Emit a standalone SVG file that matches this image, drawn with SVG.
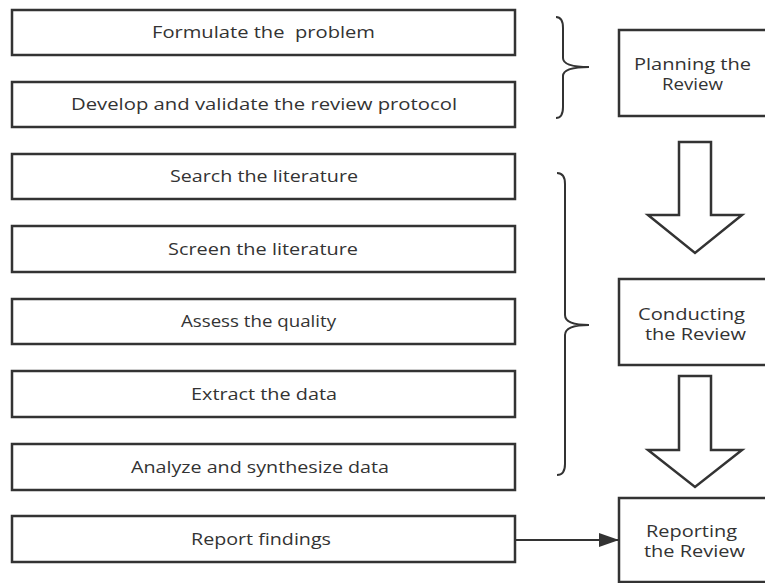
<svg xmlns="http://www.w3.org/2000/svg" width="765" height="583" viewBox="0 0 765 583">
<style>
.box{fill:#fff;stroke:#333;stroke-width:2.5}
.t{font-family:"Open Sans","Noto Sans",sans-serif;font-size:17px;fill:#333;text-anchor:middle}
.r{font-size:16px}
.br{fill:none;stroke:#333;stroke-width:2}
.ba{fill:#fff;stroke:#333;stroke-width:2.5;stroke-linejoin:miter}
</style>
<defs>
<marker id="ah" markerWidth="20" markerHeight="14" refX="19" refY="7" orient="auto" markerUnits="userSpaceOnUse" viewBox="0 0 20 14">
<path d="M0,0 L20,7 L0,14 Z" fill="#333"/>
</marker>
</defs>
<rect width="765" height="583" fill="#fff"/>
<g id="n1"><rect class="box" x="12" y="10" width="503" height="45"/><text class="t" x="263.5" y="38" xml:space="preserve" textLength="223" lengthAdjust="spacingAndGlyphs">Formulate the  problem</text></g>
<g id="n2"><rect class="box" x="12" y="82" width="503" height="45"/><text class="t" x="264" y="110" textLength="386" lengthAdjust="spacingAndGlyphs">Develop and validate the review protocol</text></g>
<g id="n3"><rect class="box" x="12" y="154" width="503" height="45"/><text class="t" x="264" y="182" textLength="188" lengthAdjust="spacingAndGlyphs">Search the literature</text></g>
<g id="n4"><rect class="box" x="12" y="226" width="503" height="46"/><text class="t" x="263" y="255" textLength="190" lengthAdjust="spacingAndGlyphs">Screen the literature</text></g>
<g id="n5"><rect class="box" x="12" y="299" width="503" height="45"/><text class="t" x="258.5" y="327" textLength="155" lengthAdjust="spacingAndGlyphs">Assess the quality</text></g>
<g id="n6"><rect class="box" x="12" y="371" width="503" height="46"/><text class="t" x="264" y="400" textLength="146" lengthAdjust="spacingAndGlyphs">Extract the data</text></g>
<g id="n7"><rect class="box" x="12" y="444" width="503" height="46"/><text class="t" x="260" y="473" textLength="258" lengthAdjust="spacingAndGlyphs">Analyze and synthesize data</text></g>
<g id="n8"><rect class="box" x="12" y="516" width="503" height="46"/><text class="t" x="261" y="545" textLength="140" lengthAdjust="spacingAndGlyphs">Report findings</text></g>
<g id="planning"><rect class="box" x="619" y="30" width="160" height="86"/><text class="t r" x="692.5" y="70" textLength="117" lengthAdjust="spacingAndGlyphs">Planning the</text><text class="t r" x="692.5" y="90" textLength="61" lengthAdjust="spacingAndGlyphs">Review</text></g>
<g id="conducting"><rect class="box" x="619" y="279" width="160" height="86"/><text class="t r" x="691.5" y="320" textLength="107" lengthAdjust="spacingAndGlyphs">Conducting</text><text class="t r" x="695.5" y="340" textLength="101" lengthAdjust="spacingAndGlyphs">the Review</text></g>
<g id="reporting"><rect class="box" x="619" y="498" width="160" height="84"/><text class="t r" x="691.5" y="537" textLength="91" lengthAdjust="spacingAndGlyphs">Reporting</text><text class="t r" x="694.5" y="557" textLength="101" lengthAdjust="spacingAndGlyphs">the Review</text></g>
<g id="connectors">
<path class="br" d="M556,17 Q563,17 563,28 L563,58 Q563,67 589,67 Q563,67 563,76 L563,107 Q563,118 556,118"/>
<path class="br" d="M557,173 Q565,173 565,184 L565,315 Q565,325 589,325 Q565,325 565,335 L565,464 Q565,475 557,475"/>
<path class="ba" d="M679,142 L711,142 L711,215 L742,215 L695,253 L648,215 L679,215 Z"/>
<path class="ba" d="M679,376 L711,376 L711,450 L742,450 L695,487 L648,450 L679,450 Z"/>
<line x1="516" y1="540" x2="618" y2="540" stroke="#333" stroke-width="2" marker-end="url(#ah)"/>
</g>
</svg>
